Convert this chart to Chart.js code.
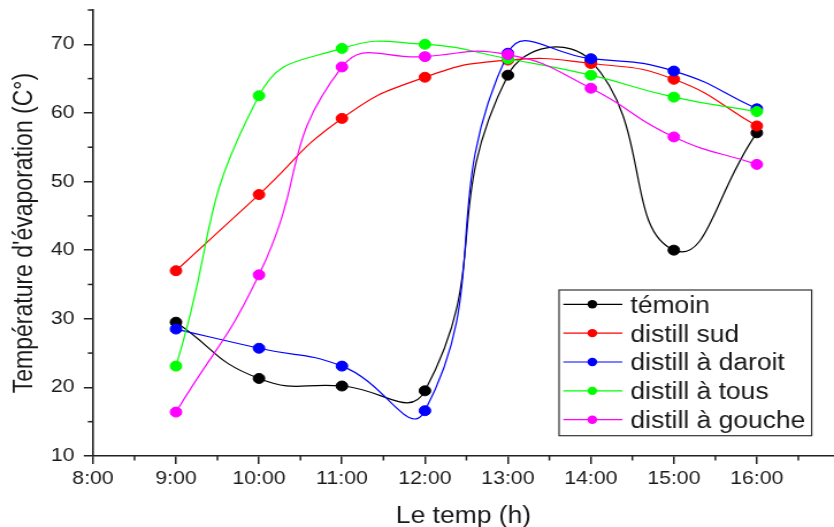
<!DOCTYPE html>
<html><head><meta charset="utf-8">
<script src="https://cdn.jsdelivr.net/npm/chart.js@4/dist/chart.umd.min.js"></script>
<style>
html,body{margin:0;padding:0;background:#fff;overflow:hidden;}
#wrap{position:absolute;left:0;top:0;width:725px;height:527px;transform:scaleX(1.15034);transform-origin:0 0;}
</style></head><body>
<div id="wrap"><canvas id="c"></canvas></div>
<script>
// ---- data ----
const hours = [9, 10, 11, 12, 13, 14, 15, 16];
const temoin        = [29.5, 21.3, 20.2, 19.5, 65.5, 67.6, 40.0, 57.1];
const distillSud    = [37.0, 48.1, 59.2, 65.2, 67.7, 67.2, 64.9, 58.1];
const distillDaroit = [28.5, 25.7, 23.1, 16.6, 68.7, 67.9, 66.1, 60.6];
const distillTous   = [23.1, 62.5, 69.4, 70.0, 67.9, 65.5, 62.3, 60.2];
const distillGouche = [16.4, 36.4, 66.7, 68.2, 68.5, 63.6, 56.5, 52.5];
const seriesNames  = ['témoin', 'distill sud', 'distill à daroit', 'distill à tous', 'distill à gouche'];
const seriesValues = [temoin, distillSud, distillDaroit, distillTous, distillGouche];
const seriesColors = ['#000000', '#ff0000', '#0000ff', '#00ff00', '#ff00ff'];
const xTickValues = [8, 9, 10, 11, 12, 13, 14, 15, 16];
const xTickLabels = ['8:00', '9:00', '10:00', '11:00', '12:00', '13:00', '14:00', '15:00', '16:00'];
const yTickValues = [10, 20, 30, 40, 50, 60, 70];
const xTitle = 'Le temp (h)';
const yTitle = "Température d'évaporation (C°)";

const FONT = "'Liberation Sans', Arial, sans-serif";
const TXT = '#1a1a1a';
const AX = '#222222';

const datasets = seriesNames.map((name, i) => ({
  label: name,
  data: hours.map((h, j) => ({ x: h, y: seriesValues[i][j] })),
  borderColor: seriesColors[i],
  backgroundColor: seriesColors[i],
  pointBackgroundColor: seriesColors[i],
  pointBorderColor: seriesColors[i],
  pointBorderWidth: 1,
  pointRadius: 5,
  borderWidth: 1.2,
  tension: 0.5,
  fill: false,
  order: seriesNames.length - i
}));

const minorTicks = {
  id: 'minorTicks',
  afterDraw(chart) {
    const ctx = chart.ctx, xs = chart.scales.x, ys = chart.scales.y;
    const area = chart.chartArea;
    ctx.save();
    ctx.strokeStyle = AX; ctx.lineWidth = 1.5;
    for (let v = xs.min + 0.5; v < xs.max; v += 1) {
      const px = xs.getPixelForValue(v);
      ctx.beginPath(); ctx.moveTo(px, area.bottom); ctx.lineTo(px, area.bottom + 4.5); ctx.stroke();
    }
    for (let v = 15; v <= ys.max + 0.01; v += 10) {
      const py = ys.getPixelForValue(v);
      ctx.beginPath(); ctx.moveTo(area.left, py); ctx.lineTo(area.left - 4.5, py); ctx.stroke();
    }
    ctx.restore();
  }
};

const boxLegend = {
  id: 'boxLegend',
  afterDraw(chart) {
    const ctx = chart.ctx;
    const bx = 486, by = 290, bw = 219.6, bh = 145.7;
    ctx.save();
    ctx.fillStyle = '#ffffff';
    ctx.fillRect(bx, by, bw, bh);
    ctx.strokeStyle = '#333'; ctx.lineWidth = 1.2;
    ctx.strokeRect(bx, by, bw, bh);
    ctx.font = '23px ' + FONT;
    ctx.textBaseline = 'alphabetic';
    ctx.textAlign = 'left';
    chart.data.datasets.forEach((ds, i) => {
      const cy = 304.3 + i * 28.85;
      ctx.strokeStyle = ds.borderColor; ctx.lineWidth = 1.2;
      ctx.beginPath(); ctx.moveTo(489.7, cy); ctx.lineTo(541, cy); ctx.stroke();
      ctx.fillStyle = ds.borderColor;
      ctx.beginPath(); ctx.arc(514.9, cy, 4.2, 0, Math.PI * 2); ctx.fill();
      ctx.fillStyle = TXT;
      ctx.fillText(ds.label, 548, cy + 8.4);
    });
    ctx.restore();
  }
};

function zeroPad(s) { s.paddingTop = 0; s.paddingBottom = 0; s.paddingLeft = 0; s.paddingRight = 0; }

new Chart(document.getElementById('c'), {
  type: 'line',
  data: { datasets },
  plugins: [minorTicks, boxLegend],
  options: {
    responsive: true,
    maintainAspectRatio: false,
    animation: false,
    events: [],
    layout: { autoPadding: false, padding: { top: 10, right: 0, bottom: 0, left: 0 } },
    plugins: { legend: { display: false }, tooltip: { enabled: false } },
    scales: {
      x: {
        type: 'linear',
        min: 8, max: 16.93,
        afterBuildTicks(s) { s.ticks = xTickValues.map(v => ({ value: v })); },
        afterFit(s) { s.height = 71; zeroPad(s); },
        ticks: {
          autoSkip: false, maxRotation: 0,
          padding: 4,
          color: TXT,
          font: { family: FONT, size: 18.5 },
          callback: (v) => { const k = xTickValues.indexOf(v); return k >= 0 ? xTickLabels[k] : ''; }
        },
        grid: { display: true, drawOnChartArea: false, drawTicks: true, tickLength: 8, color: AX, lineWidth: 1.5 },
        border: { display: true, color: AX, width: 1.6 },
        title: {
          display: true, text: xTitle, color: TXT,
          font: { family: FONT, size: 23, lineHeight: 0.85 },
          padding: { top: 0, bottom: 1 }
        }
      },
      y: {
        type: 'linear',
        min: 10, max: 75,
        afterBuildTicks(s) { s.ticks = yTickValues.map(v => ({ value: v })); },
        afterFit(s) { s.width = 80.85; zeroPad(s); },
        ticks: {
          padding: 8,
          color: TXT,
          font: { family: FONT, size: 18.5 }
        },
        grid: { display: true, drawOnChartArea: false, drawTicks: true, tickLength: 8, color: AX, lineWidth: 1.5 },
        border: { display: true, color: AX, width: 1.6 },
        title: {
          display: true, text: yTitle, color: TXT,
          font: { family: FONT, size: 23, lineHeight: 1 },
          padding: { top: 10, bottom: 0 }
        }
      }
    }
  }
});
</script>
</body></html>
